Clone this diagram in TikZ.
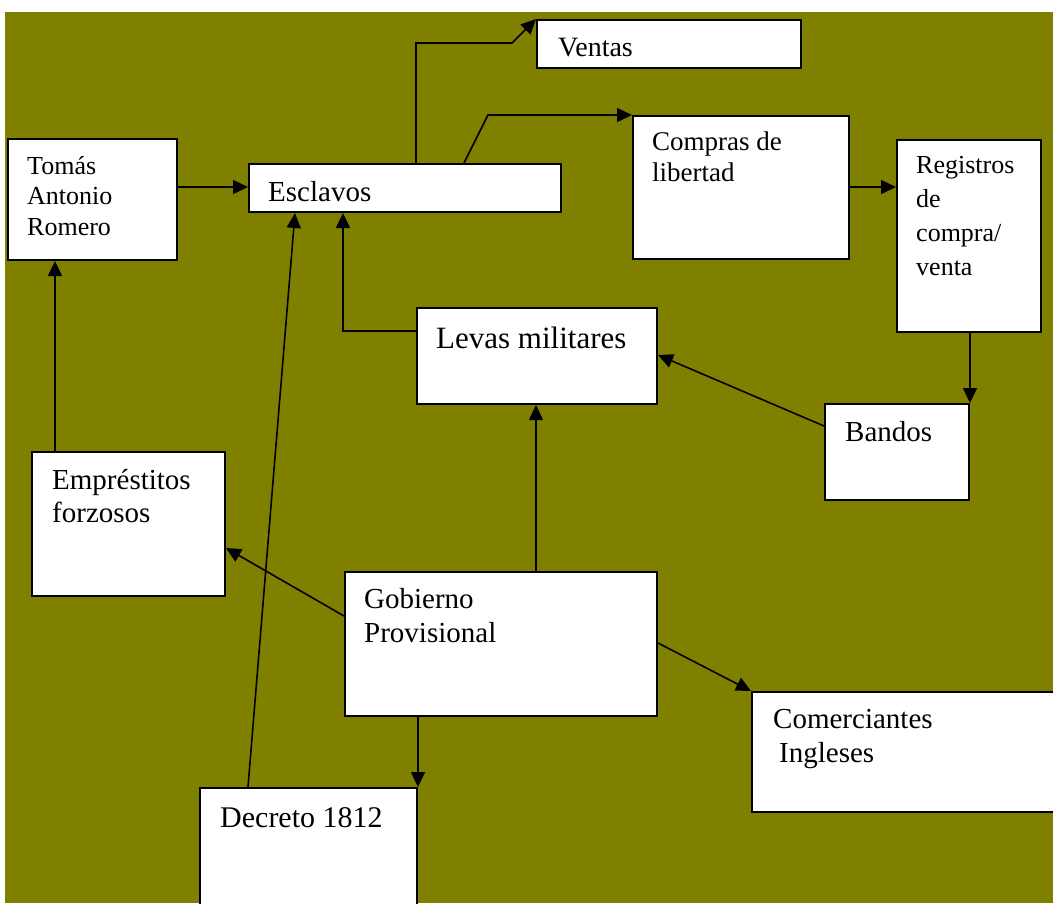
\documentclass[tikz,border=0pt]{standalone}
\usepackage{fontspec}
\setmainfont{Liberation Serif}
\usetikzlibrary{arrows.meta}
\definecolor{bgolive}{HTML}{808000}
\newcommand\fsz[2]{\fontsize{#1}{#2}\selectfont}
\begin{document}
\begin{tikzpicture}[x=1pt,y=-1pt,
  box/.style={draw=black, line width=2pt, fill=white, anchor=north west, inner sep=0pt},
  lbl/.style={anchor=base west, inner sep=0pt, align=left},
  arr/.style={line width=1.6pt, -{Triangle[length=15pt,width=14pt]}}]
\useasboundingbox (0,0) rectangle (1053,903);
\clip (0,0) rectangle (1053,903);
\fill[bgolive] (5,12) rectangle (1053,903);

% boxes
\node[box, minimum width=264pt, minimum height=48pt]  (ven)  at (536,19)  {};
\node[box, minimum width=169pt, minimum height=121pt] (tom)  at (7,138)   {};
\node[box, minimum width=312pt, minimum height=48pt]  (esc)  at (248,163) {};
\node[box, minimum width=216pt, minimum height=143pt] (comp) at (632,115) {};
\node[box, minimum width=144pt, minimum height=192pt] (reg)  at (896,139) {};
\node[box, minimum width=240pt, minimum height=96pt]  (lev)  at (416,307) {};
\node[box, minimum width=144pt, minimum height=96pt]  (ban)  at (824,403) {};
\node[box, minimum width=193pt, minimum height=144pt] (emp)  at (31,451)  {};
\node[box, minimum width=312pt, minimum height=144pt] (gob)  at (344,571) {};
\node[box, minimum width=320pt, minimum height=120pt] (com)  at (751,691) {};
\node[box, minimum width=217pt, minimum height=140pt] (dec)  at (199,787) {};

% texts (anchor = baseline of the last line)
\node[lbl, font=\fsz{28}{32}] (ven-t)  at (558,56)  {Ventas};
\node[lbl, font=\fsz{26}{30.5}] (tom-t) at (27,235) {Tomás\\Antonio\\Romero};
\node[lbl, font=\fsz{29}{33}] (esc-t)  at (268,201) {Esclavos};
\node[lbl, font=\fsz{27}{31}] (comp-t) at (652,181) {Compras de\\libertad};
\node[lbl, font=\fsz{26}{34}] (reg-t)  at (916,275) {Registros\\de\\compra/\\venta};
\node[lbl, font=\fsz{31}{35}] (lev-t)  at (436,348) {Levas militares};
\node[lbl, font=\fsz{29}{33}] (ban-t)  at (845,441) {Bandos};
\node[lbl, font=\fsz{29}{33}] (emp-t)  at (52,522)  {Empréstitos\\forzosos};
\node[lbl, font=\fsz{29}{34}] (gob-t)  at (364,642) {Gobierno\\Provisional};
\node[lbl, font=\fsz{29}{34}] (com-t)  at (773,762) {Comerciantes\\\hspace*{6pt}Ingleses};
\node[lbl, font=\fsz{30}{34}] (dec-t)  at (220,827) {Decreto 1812};

% connectors
\draw[arr] (tom.east |- 0,187) -- (esc.west |- 0,187);
\draw[arr] (esc.north -| 416,0) -- (416,43) -- (512,43) -- (ven.north west);
\draw[arr] (esc.north -| 464,0) -- (488,115) -- (comp.north west);
\draw[arr] (comp.east |- 0,187) -- (reg.west |- 0,187);
\draw[arr] (reg.south -| ban.east) -- (ban.north east);
\draw[arr] (ban.west |- 0,426) -- (lev.east |- 0,355);
\draw[arr] (lev.west |- 0,331) -| (esc.south -| 343,0);
\draw[arr] (gob.north -| 536,0) -- (lev.south -| 536,0);
\draw[arr] (emp.north -| 55,0) -- (tom.south -| 55,0);
\draw[arr] (gob.west |- 0,616) -- (emp.east |- 0,548);
\draw[arr] (gob.east |- 0,643) -- (com.north west);
\draw[arr] (gob.south -| dec.east) -- (dec.north east);
\draw[arr] (dec.north -| 248,0) -- (esc.south -| 295,0);
\end{tikzpicture}
\end{document}
